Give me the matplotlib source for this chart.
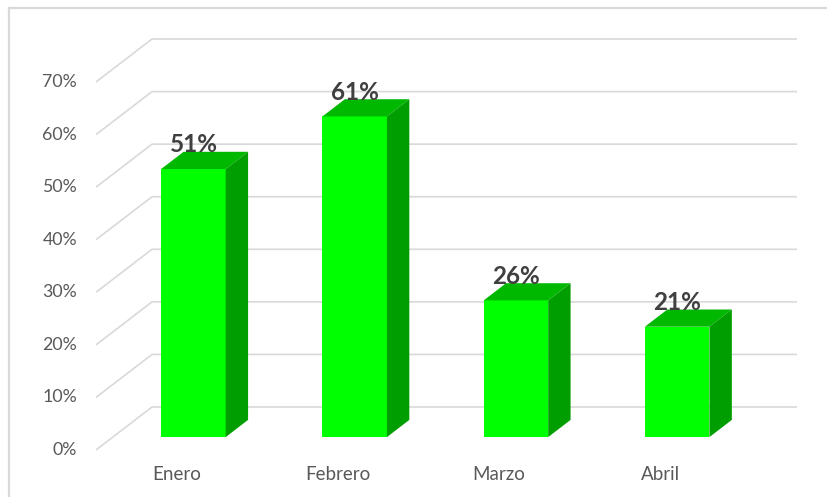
import matplotlib
matplotlib.use("Agg")
import matplotlib.pyplot as plt
from matplotlib.patches import Polygon
from matplotlib.lines import Line2D

# Monthly percentages
months = ["Enero", "Febrero", "Marzo", "Abril"]
values = [51, 61, 26, 21]
y_ticks = [0, 10, 20, 30, 40, 50, 60, 70]

FRONT = "#00FF00"
TOP = "#00B800"
SIDE = "#009E00"
GRID = "#D9D9D9"
TICK_TXT = "#595959"
LABEL_TXT = "#404040"
FONT = "Lato"

W, H, DPI = 827, 497, 100
fig = plt.figure(figsize=(W / DPI, H / DPI), dpi=DPI)
ax = fig.add_axes([0, 0, 1, 1])
ax.set_axis_off()

# Pixel scale of the front plane: one category unit and one percent
px_x = 161.25
px_y = 5.257
x0_px, y0_px = 96, 450
ax.set_xlim(-x0_px / px_x, (W - x0_px) / px_x)
ax.set_ylim(-(H - y0_px) / px_y, y0_px / px_y)

# Oblique depth of the plot box (in data units)
DX = 56 / px_x
DY = 43 / px_y
n = len(months)

# Back wall gridlines with their side-wall diagonals
for t in y_ticks:
    ax.add_line(Line2D([0, DX, n + DX], [t, t + DY, t + DY],
                       color=GRID, lw=1.2, zorder=1, solid_capstyle="butt"))
    ax.text(-19 / px_x, t, f"{t}%", ha="right", va="center",
            fontsize=12.8, color=TICK_TXT, family=FONT)

# 3D columns
bar_w = 0.4
d0, d1 = 0.3, 0.7
for i, (m, v) in enumerate(zip(months, values)):
    xl = i + (1 - bar_w) / 2 + d0 * DX
    yb = d0 * DY
    bdx, bdy = (d1 - d0) * DX, (d1 - d0) * DY
    xr = xl + bar_w
    front = Polygon([(xl, yb), (xr, yb), (xr, yb + v), (xl, yb + v)],
                    closed=True, fc=FRONT, ec="none", zorder=3)
    top = Polygon([(xl, yb + v), (xr, yb + v), (xr + bdx, yb + v + bdy),
                   (xl + bdx, yb + v + bdy)], closed=True, fc=TOP, ec="none", zorder=3)
    side = Polygon([(xr, yb), (xr + bdx, yb + bdy), (xr + bdx, yb + v + bdy),
                    (xr, yb + v)], closed=True, fc=SIDE, ec="none", zorder=3)
    for p in (front, top, side):
        ax.add_patch(p)
    ax.text(xl + bar_w / 2, v + d1 * DY - 0.1, f"{v}%", ha="center", va="baseline",
            fontsize=17.5, fontweight="bold", color=LABEL_TXT, family=FONT, zorder=4)
    ax.text(i + 0.5, -25 / px_y, m, ha="center", va="center",
            fontsize=13.5, color=TICK_TXT, family=FONT)

# Chart area border
fx, fy = 9 / W, 1 - 8 / H
fig.add_artist(Line2D([fx, 1.01], [fy, fy], transform=fig.transFigure,
                      color=GRID, lw=1.6))
fig.add_artist(Line2D([fx, fx], [-0.01, fy], transform=fig.transFigure,
                      color=GRID, lw=1.6))

fig.savefig("out.png", dpi=DPI, facecolor="white")
